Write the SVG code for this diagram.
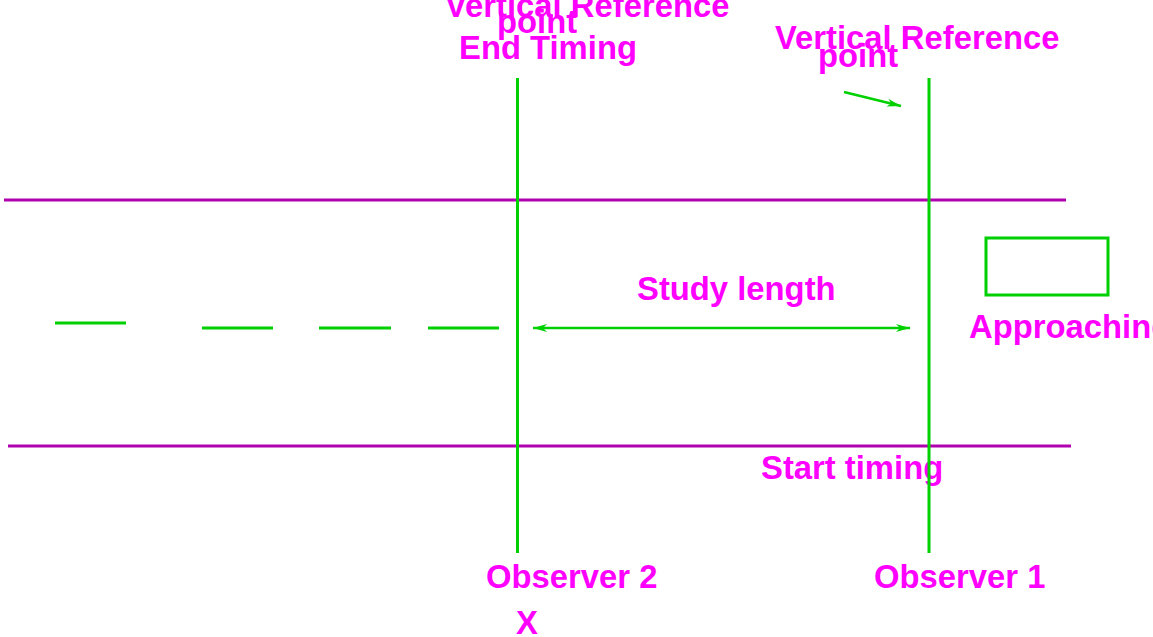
<svg xmlns="http://www.w3.org/2000/svg" width="1153" height="637" viewBox="0 0 1153 637">
<style>
.road{stroke:#b000b0;stroke-width:3;fill:none}
.g{stroke:#00d000;stroke-width:3;fill:none}
.t{font-family:"Liberation Sans",Arial,sans-serif;font-weight:bold;font-size:32.8px;fill:#ff00ff}
</style>
<defs>
<marker id="ah" viewBox="0 0 14 8" refX="14" refY="4" markerWidth="14" markerHeight="8" markerUnits="userSpaceOnUse" orient="auto-start-reverse">
<path d="M0,0 L14,4 L0,8 L4,4 Z" fill="#00d000"/>
</marker>
</defs>
<rect width="1153" height="637" fill="#fff"/>
<g id="road">
<line class="road" x1="4" y1="200" x2="1066" y2="200"/>
<line class="road" x1="8" y1="446" x2="1071" y2="446"/>
</g>
<g id="lane-dashes">
<line class="g" x1="55" y1="323" x2="126" y2="323"/>
<line class="g" x1="202" y1="328" x2="273" y2="328"/>
<line class="g" x1="319" y1="328" x2="391" y2="328"/>
<line class="g" x1="428" y1="328" x2="499" y2="328"/>
</g>
<g id="labels">
<text class="t" x="445" y="17">Vertical Reference</text>
<text class="t" x="497" y="33">point</text>
<text class="t" x="459" y="59">End Timing</text>
<text class="t" x="775" y="49">Vertical Reference</text>
<text class="t" x="818" y="67">point</text>
<text class="t" x="637" y="300">Study length</text>
<text class="t" x="969" y="338">Approaching</text>
<text class="t" x="761" y="479">Start timing</text>
</g>
<g id="observer2">
<text class="t" x="486" y="588">Observer 2</text>
<text class="t" x="516" y="634">X</text>
</g>
<g id="observer1">
<text class="t" x="874" y="588">Observer 1</text>
</g>
<g id="vehicle">
<rect class="g" x="986" y="238" width="122" height="57"/>
</g>
<g id="connectors">
<line class="g" x1="517.5" y1="78" x2="517.5" y2="553"/>
<line class="g" x1="929" y1="78" x2="929" y2="553"/>
<line class="g" x1="533" y1="328" x2="910" y2="328" marker-start="url(#ah)" marker-end="url(#ah)" style="stroke-width:2.5"/>
<line class="g" x1="844" y1="92" x2="901" y2="106" marker-end="url(#ah)" style="stroke-width:2.5"/>
</g>
</svg>
